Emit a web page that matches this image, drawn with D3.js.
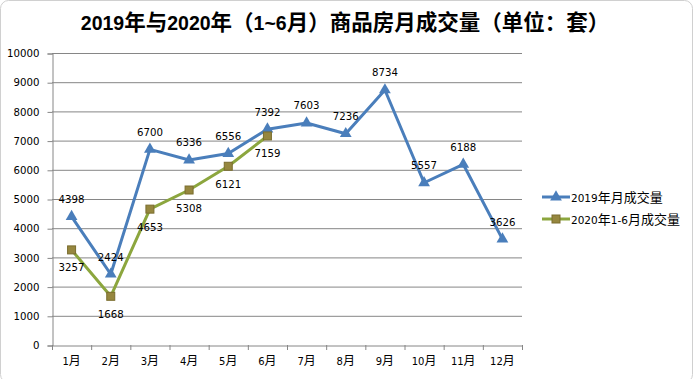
<!DOCTYPE html>
<html><head><meta charset="utf-8">
<script src="https://cdn.jsdelivr.net/npm/d3@7/dist/d3.min.js"></script>
<style>body{margin:0;background:#fff}svg{display:block}</style>
</head><body>
<script>
const months = ["1月","2月","3月","4月","5月","6月","7月","8月","9月","10月","11月","12月"];
const sales2019 = [4398,2424,6700,6336,6556,7392,7603,7236,8734,5557,6188,3626];
const sales2020 = [3257,1668,4653,5308,6121,7159];
const yTicks = [0,1000,2000,3000,4000,5000,6000,7000,8000,9000,10000];
const seriesNames = ["2019年月成交量","2020年1-6月成交量"];
const titleText = "2019年与2020年（1~6月）商品房月成交量（单位：套）";

const W = 696, H = 379;
const svg = d3.select("body").append("svg").attr("width", W).attr("height", H);
svg.append("rect").attr("x",0.5).attr("y",0.5).attr("width",692).attr("height",382)
  .attr("rx",8).attr("fill","#fff").attr("stroke","#d0d0d0");

const isCJK = ch => /[\u3000-\u303f\u4e00-\u9fff\uff00-\uffef]/.test(ch);
function mixed(sel, str, latin, cjk) {
  const runs = [];
  for (const ch of str) {
    const c = isCJK(ch);
    if (runs.length && runs[runs.length-1].c === c) runs[runs.length-1].t += ch;
    else runs.push({c, t: ch});
  }
  runs.forEach(r => {
    sel.append("tspan").text(r.t)
      .attr("font-family", r.c ? cjk.family : latin.family)
      .attr("font-size", r.c ? cjk.size : latin.size);
  });
}

const x = d3.scaleBand().domain(months).range([52, 522]).padding(0);
const y = d3.scaleLinear().domain([0, 10000]).range([345, 53]);
const gridC = "#868686";

// gridlines
svg.append("g").selectAll("line").data(yTicks.filter(d => d > 0)).join("line")
  .attr("x1", 52).attr("x2", 522).attr("y1", d => y(d) + 0.5).attr("y2", d => y(d) + 0.5)
  .attr("stroke", gridC).attr("stroke-width", 1);

// y axis
const yAxis = svg.append("g").attr("transform", "translate(52.5,0.5)")
  .call(d3.axisLeft(y).tickValues(yTicks).tickSize(5).tickPadding(8).tickFormat(d3.format("d")));
yAxis.select(".domain").attr("stroke", gridC);
yAxis.selectAll(".tick line").attr("stroke", gridC);
yAxis.selectAll("text").attr("font-family", "DejaVu Sans").attr("font-size", 10.2).attr("fill", "#000");

// x axis
const xAxis = svg.append("g").attr("transform", "translate(0.5,345.5)")
  .call(d3.axisBottom(x).tickSize(0).tickFormat(""));
xAxis.select(".domain").attr("stroke", gridC);
svg.append("g").selectAll("line").data(d3.range(months.length + 1)).join("line")
  .attr("x1", i => 52.5 + i * x.bandwidth()).attr("x2", i => 52.5 + i * x.bandwidth())
  .attr("y1", 345).attr("y2", 350).attr("stroke", gridC);
svg.append("g").selectAll("text").data(months).join("text")
  .attr("x", d => x(d) + x.bandwidth() / 2).attr("y", 365).attr("text-anchor", "middle")
  .attr("fill", "#000")
  .each(function(d) { mixed(d3.select(this), d, {family:"DejaVu Sans", size:10}, {family:"Noto Sans CJK SC", size:12}); });

const cx = (d, i) => x(months[i]) + x.bandwidth() / 2;
const blue = "#4a7ebb", green = "#8ca63e", mFill = "#96873f", mStroke = "#7a6d2e";
const line = d3.line().x((d, i) => cx(d, i)).y(d => y(d));
const tri = d3.symbol().type(d3.symbolTriangle).size(60);

svg.append("path").datum(sales2019).attr("d", line).attr("fill", "none")
  .attr("stroke", blue).attr("stroke-width", 3).attr("stroke-linejoin", "round");
svg.append("path").datum(sales2020).attr("d", line).attr("fill", "none")
  .attr("stroke", green).attr("stroke-width", 3).attr("stroke-linejoin", "round");

svg.append("g").selectAll("path").data(sales2019).join("path")
  .attr("d", tri).attr("transform", (d, i) => `translate(${cx(d, i)},${y(d)})`).attr("fill", blue);
svg.append("g").selectAll("rect").data(sales2020).join("rect")
  .attr("x", (d, i) => cx(d, i) - 4).attr("y", d => y(d) - 4).attr("width", 8).attr("height", 8)
  .attr("fill", mFill).attr("stroke", mStroke).attr("stroke-width", 1);

const lab = (data, dy) => svg.append("g").selectAll("text").data(data).join("text")
  .attr("x", (d, i) => cx(d, i)).attr("y", d => y(d) + dy).attr("text-anchor", "middle")
  .attr("font-family", "DejaVu Sans").attr("font-size", 10.2).attr("fill", "#000")
  .text(d => d);
lab(sales2019, -13.5);
lab(sales2020, 21.5);

// legend
const lg = svg.append("g");
[[blue, "tri"], [green, "sq"]].forEach(([c, m], i) => {
  const ly = 197 + i * 22;
  lg.append("line").attr("x1", 542).attr("x2", 570).attr("y1", ly).attr("y2", ly)
    .attr("stroke", c).attr("stroke-width", 3);
  if (m === "tri") lg.append("path").attr("d", tri).attr("transform", `translate(556,${ly})`).attr("fill", blue);
  else lg.append("rect").attr("x", 552).attr("y", ly - 4).attr("width", 8).attr("height", 8)
    .attr("fill", mFill).attr("stroke", mStroke);
  const t = lg.append("text").attr("x", 571).attr("y", ly + 4.5).attr("fill", "#000");
  mixed(t, seriesNames[i], {family:"DejaVu Sans", size:10.5}, {family:"Noto Sans CJK SC", size:13});
});

// title
const tt = svg.append("text").attr("x", 345).attr("y", 30).attr("text-anchor", "middle")
  .attr("font-weight", "bold").attr("fill", "#000");
mixed(tt, titleText, {family:"Liberation Sans", size:19.5}, {family:"Noto Sans CJK SC", size:21.5});
</script>
</body></html>
